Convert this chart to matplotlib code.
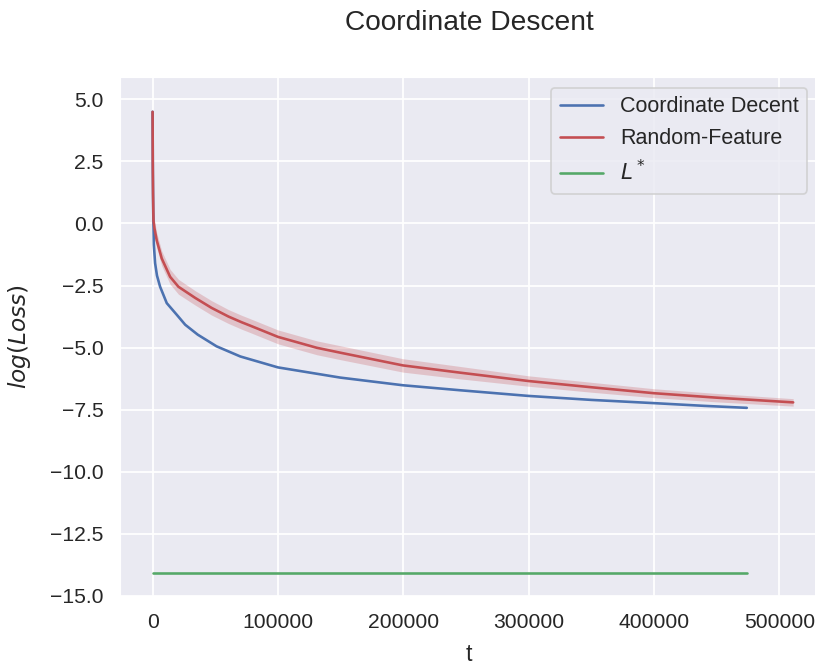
import numpy as np
import matplotlib
matplotlib.use("Agg")
import matplotlib.pyplot as plt
import seaborn as sns

sns.set(color_codes=True)
plt.rcParams["font.family"] = ["Liberation Sans", "DejaVu Sans"]
plt.rcParams["xtick.labelsize"] = 12.2
plt.rcParams["ytick.labelsize"] = 12.2
plt.rcParams["legend.fontsize"] = 12.4
plt.rcParams["axes.labelsize"] = 13.4

# values
t_cd = [0, 200, 500, 1000, 2000, 3500, 6000, 11300, 19300, 26000, 36000, 51000,
        70000, 100000, 149600, 199700, 245000, 300000, 350000, 400000, 440000,
        474000]
loss_cd = [4.5, 2.1, 0.5, -0.85, -1.6, -2.1, -2.55, -3.21, -3.68, -4.08, -4.48,
           -4.95, -5.36, -5.8, -6.21, -6.52, -6.72, -6.95, -7.11, -7.24, -7.35,
           -7.43]

t_rf = [0, 150, 350, 700, 1500, 3300, 7300, 14000, 20600, 34000, 47000, 60500,
        71000, 78000, 100000, 131000, 150000, 199700, 245000, 300000, 350000,
        400000, 450000, 511000]
loss_rf = [4.5, 2.5, 1.2, 0.12, -0.2, -0.68, -1.41, -2.15, -2.55, -3.0, -3.4,
           -3.75, -3.98, -4.12, -4.57, -5.01, -5.21, -5.72, -6.01, -6.35, -6.6,
           -6.84, -7.02, -7.21]
std_rf = [0.45, 0.5, 0.4, 0.35, 0.32, 0.3, 0.3, 0.3, 0.3, 0.29, 0.29, 0.28,
          0.28, 0.28, 0.28, 0.28, 0.28, 0.27, 0.25, 0.21, 0.2, 0.18, 0.17,
          0.15]

t_opt = [0, 474000]
loss_opt = [-14.1, -14.1]

fig = plt.figure(figsize=(815 / 125, 667 / 125), dpi=125)
ax = fig.add_axes([120 / 815, 1 - 597 / 667, 698 / 815, 520 / 667])

ax.plot(t_cd, loss_cd, color="b", label="Coordinate Decent")
rf = np.array(loss_rf)
sd = np.array(std_rf)
ax.plot(t_rf, rf, color="r", label="Random-Feature")
ax.fill_between(t_rf, rf - sd, rf + sd, color="r", alpha=0.25, linewidth=0)
ax.plot(t_opt, loss_opt, color="g", label="$L^*$")

ax.set_xlim(-26000, 530800)
ax.set_xlabel("t", labelpad=6)
ax.set_ylabel("$log(Loss)$", labelpad=10)
ax.legend(loc="upper right")
ax.set_title("Coordinate Descent", fontsize=16.2, pad=27)

fig.savefig("out.png", dpi=125)
